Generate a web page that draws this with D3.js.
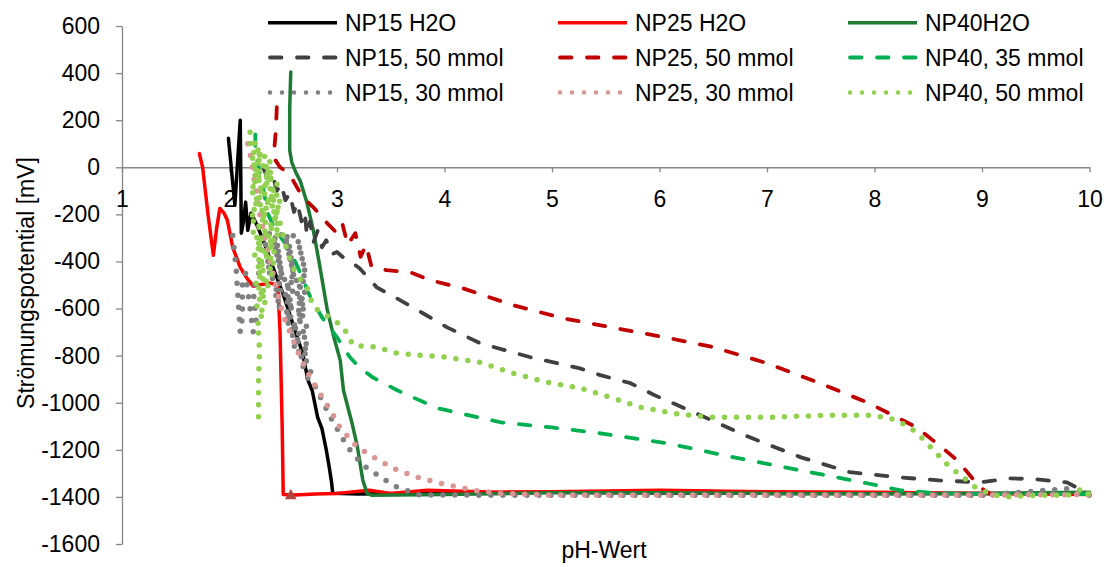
<!DOCTYPE html>
<html>
<head>
<meta charset="utf-8">
<script src="https://cdn.jsdelivr.net/npm/d3@7"></script>
<style>
  html, body { margin: 0; padding: 0; background: #fff; }
  svg { display: block; font-family: "Liberation Sans", Arial, sans-serif; }
</style>
</head>
<body>
<svg id="chart" width="1107" height="567"></svg>
<script>
// Axis ticks
const phTicks = [1, 2, 3, 4, 5, 6, 7, 8, 9, 10];
const mvTicks = [600, 400, 200, 0, -200, -400, -600, -800, -1000, -1200, -1400, -1600];

// Measured curves: [pH, streaming potential in mV]
const np15H2O = [
  [1.99, 123], [2.05, -161], [2.10, 200], [2.11, -280], [2.13, -230], [2.15, -148],
  [2.17, -268], [2.20, -195], [2.26, -250], [2.33, -330], [2.40, -420], [2.50, -540],
  [2.60, -680], [2.68, -790], [2.73, -904], [2.77, -950], [2.82, -1062], [2.86, -1110],
  [2.90, -1200], [2.93, -1280], [2.95, -1340], [2.96, -1384], [3.2, -1388], [4, -1383],
  [5, -1380], [6, -1383], [7, -1385], [8, -1386], [9, -1385], [10, -1385]
];
const np25H2O = [
  [1.72, 58], [1.75, 0], [1.80, -200], [1.85, -374], [1.88, -260], [1.91, -175],
  [1.95, -195], [1.98, -225], [2.03, -340], [2.10, -425], [2.16, -470], [2.22, -505],
  [2.30, -498], [2.38, -492], [2.45, -500], [2.47, -700], [2.49, -1100], [2.50, -1390],
  [2.6, -1392], [2.8, -1388], [3.0, -1385], [3.3, -1372], [3.5, -1385], [3.84, -1372],
  [4.5, -1380], [5, -1378], [6, -1372], [7, -1378], [8, -1380], [9, -1385], [10, -1390]
];
const np40H2O = [
  [2.57, 405], [2.56, 250], [2.56, 72], [2.58, 20], [2.62, -25], [2.66, -60],
  [2.72, -150], [2.78, -268], [2.84, -420], [2.91, -607], [2.97, -720], [3.03, -820],
  [3.06, -947], [3.14, -1087], [3.19, -1189], [3.24, -1329], [3.28, -1385], [3.32, -1393],
  [4, -1390], [5, -1382], [6, -1382], [7, -1385], [8, -1387], [9, -1385], [10, -1380]
];
const np15Mmol50 = [
  [2.31, 0], [2.36, -50], [2.40, -30], [2.44, -100], [2.48, -70], [2.52, -140],
  [2.56, -110], [2.60, -190], [2.63, -150], [2.67, -230], [2.70, -190], [2.72, -290],
  [2.75, -230], [2.78, -320], [2.82, -270], [2.86, -340], [2.90, -310], [2.95, -370],
  [3.00, -360], [3.05, -380], [3.10, -392], [3.21, -429], [3.37, -510], [3.59, -565],
  [3.80, -620], [4.02, -679], [4.33, -747], [4.80, -807], [5.26, -854], [5.45, -883],
  [5.73, -917], [5.94, -965], [6.38, -1053], [6.84, -1147], [7.31, -1231], [7.77, -1295],
  [8.21, -1316], [8.60, -1330], [8.98, -1338], [9.26, -1321], [9.50, -1325],
  [9.79, -1338], [9.93, -1372]
];
const np25Mmol50 = [
  [2.44, 255], [2.43, 150], [2.41, 42], [2.47, 0], [2.53, -20], [2.59, -55],
  [2.68, -127], [2.78, -170], [2.91, -238], [3.00, -280], [3.05, -240], [3.10, -330],
  [3.17, -280], [3.22, -380], [3.27, -330], [3.32, -420], [3.46, -437], [3.68, -446],
  [3.87, -480], [4.17, -514], [4.64, -586], [5.10, -641], [5.54, -679], [6.05, -722],
  [6.50, -764], [7.00, -832], [7.45, -910], [7.93, -998], [8.17, -1053], [8.39, -1104],
  [8.60, -1180], [8.77, -1244], [8.98, -1359], [9.17, -1414]
];
const np40Mmol35 = [
  [2.24, 140], [2.24, 80], [2.26, 20], [2.30, -60], [2.33, -130], [2.36, -200],
  [2.42, -260], [2.48, -300], [2.53, -330], [2.58, -370], [2.63, -420], [2.68, -470],
  [2.73, -530], [2.77, -565], [2.86, -637], [3.00, -722], [3.12, -807], [3.21, -850],
  [3.33, -892], [3.56, -947], [3.93, -1023], [4.52, -1083], [5.00, -1105], [5.45, -1130],
  [6.07, -1172], [6.68, -1231], [7.31, -1287], [7.93, -1342], [8.24, -1372],
  [8.6, -1385], [9, -1388], [10, -1388]
];
const np15Mmol30 = [
  [2.03, -290], [2.06, -420], [2.08, -560], [2.10, -700], [2.12, -640], [2.12, -500],
  [2.15, -450], [2.18, -560], [2.22, -700], [2.25, -660], [2.22, -520], [2.28, -440],
  [2.30, -280], [2.62, -292], [2.31, -304], [2.64, -316], [2.32, -328], [2.66, -340],
  [2.33, -352], [2.67, -364], [2.34, -376], [2.68, -388], [2.35, -400], [2.69, -412],
  [2.36, -424], [2.70, -436], [2.37, -448], [2.70, -460], [2.38, -472], [2.71, -484],
  [2.39, -496], [2.71, -508], [2.40, -520], [2.72, -532], [2.42, -544], [2.72, -556],
  [2.44, -568], [2.72, -580], [2.46, -592], [2.72, -604], [2.48, -616], [2.72, -628],
  [2.50, -640], [2.71, -652], [2.52, -664], [2.72, -676], [2.54, -688], [2.72, -700],
  [2.56, -712], [2.72, -724], [2.58, -736], [2.73, -748], [2.60, -760], [2.73, -772],
  [2.62, -784], [2.74, -796], [2.64, -808], [2.75, -830], [2.67, -850], [2.76, -870],
  [2.70, -890], [2.77, -905], [2.80, -934], [2.94, -1062], [3.10, -1189], [3.24, -1265],
  [3.45, -1329], [3.56, -1359], [3.77, -1392], [5, -1393], [7, -1393], [9, -1393],
  [9.8, -1365], [9.9, -1390], [10, -1393]
];
const np25Mmol30 = [
  [2.17, 100], [2.20, 40], [2.22, -30], [2.25, -100], [2.28, -195], [2.32, -280],
  [2.37, -380], [2.42, -480], [2.50, -630], [2.58, -720], [2.65, -800], [2.73, -875],
  [2.80, -930], [2.88, -990], [2.95, -1040], [3.03, -1108], [3.19, -1189], [3.34, -1231],
  [3.52, -1278], [3.74, -1316], [3.96, -1342], [4.27, -1372], [4.52, -1385], [5, -1392],
  [6, -1392], [7, -1392], [8, -1392], [9, -1392], [10, -1390]
];
const np40Mmol50 = [
  [2.27, -1060], [2.27, -900], [2.28, -780], [2.27, -700], [2.30, -680], [2.26, -660],
  [2.32, -640], [2.25, -620], [2.33, -600], [2.25, -588], [2.34, -576], [2.25, -564],
  [2.35, -552], [2.25, -540], [2.36, -528], [2.24, -516], [2.37, -504], [2.24, -492],
  [2.38, -480], [2.24, -468], [2.39, -456], [2.24, -444], [2.40, -432], [2.23, -420],
  [2.41, -408], [2.23, -396], [2.42, -384], [2.23, -372], [2.43, -360], [2.23, -348],
  [2.44, -336], [2.22, -324], [2.45, -312], [2.22, -300], [2.46, -288], [2.22, -276],
  [2.47, -264], [2.22, -252], [2.47, -240], [2.21, -228], [2.48, -216], [2.21, -204],
  [2.48, -192], [2.21, -180], [2.48, -168], [2.21, -156], [2.47, -144], [2.21, -132],
  [2.47, -120], [2.20, -108], [2.46, -96], [2.20, -84], [2.45, -72], [2.20, -60],
  [2.44, -48], [2.20, -36], [2.42, -24], [2.20, -12], [2.40, 0], [2.19, 12],
  [2.38, 24], [2.19, 36], [2.36, 48], [2.20, 60], [2.30, 70], [2.20, 80],
  [2.19, 150], [2.26, 80], [2.35, -50], [2.45, -200], [2.52, -330], [2.58, -420],
  [2.65, -470], [2.72, -510], [2.78, -594], [2.93, -637], [3.06, -679], [3.15, -756],
  [3.37, -764], [3.56, -790], [4.02, -807], [4.33, -828], [4.64, -875], [4.95, -913],
  [5.26, -938], [5.57, -981], [5.82, -1019], [6.13, -1045], [6.47, -1062], [7.00, -1062],
  [7.61, -1053], [7.99, -1053], [8.21, -1074], [8.39, -1125], [8.55, -1202], [8.70, -1274],
  [8.86, -1329], [8.95, -1363], [9.10, -1390], [9.20, -1400], [9.50, -1393], [9.80, -1393],
  [9.95, -1362], [10, -1395]
];
// Single marked reading
const markerPoint = [2.57, -1400];

const seriesNames = [
  "NP15 H2O", "NP25 H2O", "NP40H2O",
  "NP15, 50 mmol", "NP25, 50 mmol", "NP40, 35 mmol",
  "NP15, 30 mmol", "NP25, 30 mmol", "NP40, 50 mmol"
];
const seriesData = [
  np15H2O, np25H2O, np40H2O,
  np15Mmol50, np25Mmol50, np40Mmol35,
  np15Mmol30, np25Mmol30, np40Mmol50
];

// Line styles per series
const seriesColors = ["#000000", "#ff0000", "#1f7a34", "#404040", "#c00000", "#00b050", "#808080", "#d99694", "#92d050"];
const styles = {
  solid:  { width: 3.5, dash: null },
  dashed: { width: 3.8, dash: "11.5,15.5" },
  dotted: { width: 5.5, dash: "0,12" }
};
const seriesStyle = ["solid", "solid", "solid", "dashed", "dashed", "dashed", "dotted", "dotted", "dotted"];

const svg = d3.select("#chart");
const FONT = 23;

const x = d3.scaleLinear().domain([1, 10]).range([122, 1089.5]);
const y = d3.scaleLinear().domain([-1600, 600]).range([544, 26]);
const axisColor = "#868686";

// Y axis
const yAxis = svg.append("g")
  .attr("transform", `translate(${x(1)},0)`)
  .call(d3.axisLeft(y).tickValues(mvTicks).tickFormat(d => String(d))
    .tickSize(6).tickPadding(16).tickSizeOuter(0));
yAxis.select(".domain").attr("stroke", axisColor).attr("stroke-width", 1.3);
yAxis.selectAll(".tick line").attr("stroke", axisColor).attr("stroke-width", 1.3);
yAxis.selectAll("text").attr("font-size", FONT).attr("fill", "#000").attr("font-family", "Liberation Sans, Arial, sans-serif");

// X axis through zero
const xAxis = svg.append("g")
  .attr("transform", `translate(0,${y(0)})`)
  .call(d3.axisBottom(x).tickValues(phTicks).tickFormat(d => String(d))
    .tickSize(5).tickPadding(18).tickSizeOuter(0));
xAxis.select(".domain").attr("stroke", axisColor).attr("stroke-width", 1.3);
xAxis.selectAll(".tick line").attr("stroke", axisColor).attr("stroke-width", 1.3);
xAxis.selectAll("text").attr("font-size", FONT).attr("fill", "#000").attr("font-family", "Liberation Sans, Arial, sans-serif");

// Axis titles
svg.append("text")
  .attr("transform", `translate(34,283) rotate(-90)`)
  .attr("text-anchor", "middle")
  .attr("font-size", FONT)
  .text("Strömungspotential [mV]");
svg.append("text")
  .attr("x", 604).attr("y", 558)
  .attr("text-anchor", "middle")
  .attr("font-size", FONT)
  .text("pH-Wert");

// Curves
const line = d3.line()
  .x(d => x(d[0]))
  .y(d => y(d[1]))
  .curve(d3.curveLinear);

const plot = svg.append("g");
seriesData.forEach((data, i) => {
  const st = styles[seriesStyle[i]];
  plot.append("path")
    .datum(data)
    .attr("d", line)
    .attr("fill", "none")
    .attr("stroke", seriesColors[i])
    .attr("stroke-width", st.width)
    .attr("stroke-linecap", "round")
    .attr("stroke-linejoin", "round")
    .attr("stroke-dasharray", st.dash);
});

// Triangle marker
plot.append("path")
  .attr("d", d3.symbol(d3.symbolTriangle, 60)())
  .attr("transform", `translate(${x(markerPoint[0])},${y(markerPoint[1]) - 1})`)
  .attr("fill", "#b0443f");

// Legend: three columns, three rows
const legendCols = [268, 558, 848];
const legendRows = [22.7, 57.5, 92.5];
const legend = svg.append("g");
seriesNames.forEach((name, i) => {
  const col = i % 3, row = Math.floor(i / 3);
  const lx = legendCols[col], ly = legendRows[row];
  const st = styles[seriesStyle[i]];
  legend.append("line")
    .attr("x1", lx + (st.dash ? 2 : 0)).attr("x2", lx + 69)
    .attr("y1", ly).attr("y2", ly)
    .attr("stroke", seriesColors[i])
    .attr("stroke-width", st.dash === styles.dotted.dash ? 4.5 : st.width)
    .attr("stroke-linecap", st.dash ? "round" : "butt")
    .attr("stroke-dasharray", st.dash);
  legend.append("text")
    .attr("x", lx + 77).attr("y", ly + 8.5)
    .attr("font-size", FONT)
    .text(name);
});
</script>
</body>
</html>
